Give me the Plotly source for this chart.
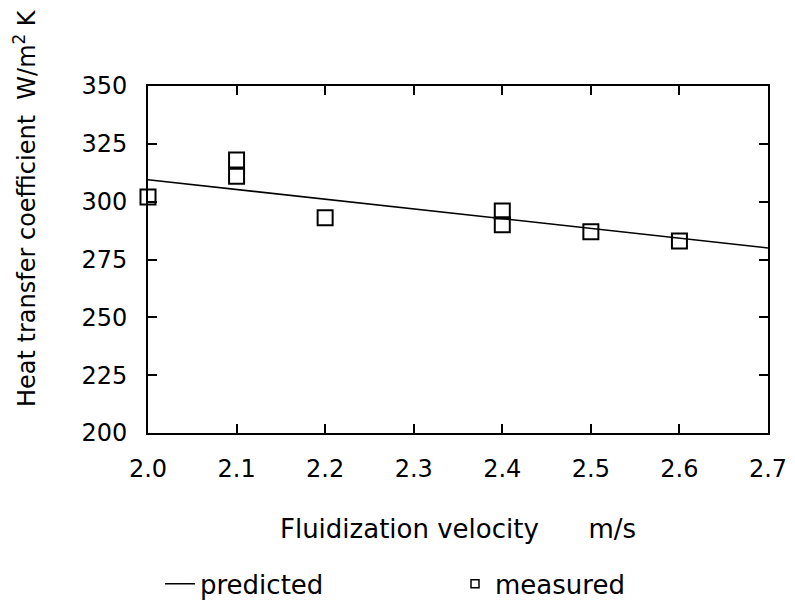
import plotly.graph_objects as go

# Measured heat transfer coefficients vs. fluidization velocity
velocity_measured = [2.0, 2.1, 2.1, 2.2, 2.4, 2.4, 2.5, 2.6]
htc_measured = [302, 318, 311, 293, 296, 290, 287, 283]

# Predicted correlation (straight line over the plotted range)
velocity_predicted = [2.0, 2.7]
htc_predicted = [309.5, 280]

x_ticks = [2.0, 2.1, 2.2, 2.3, 2.4, 2.5, 2.6, 2.7]
y_ticks = [200, 225, 250, 275, 300, 325, 350]

FONT = "DejaVu Sans"

fig = go.Figure()

fig.add_trace(go.Scatter(
    x=velocity_predicted, y=htc_predicted, mode="lines", name="predicted",
    line=dict(color="black", width=1.6), cliponaxis=False,
))
fig.add_trace(go.Scatter(
    x=velocity_measured, y=htc_measured, mode="markers", name="measured",
    marker=dict(symbol="square-open", size=15, color="black",
                line=dict(color="black", width=2)),
    showlegend=False, cliponaxis=False,
))
# legend entry for the measured points with a smaller symbol
fig.add_trace(go.Scatter(
    x=[None], y=[None], mode="markers", name="measured",
    marker=dict(symbol="square-open", size=8, color="black",
                line=dict(color="black", width=1.5)),
))

fig.update_layout(
    width=795, height=605,
    margin=dict(l=148, r=27, t=86, b=172, autoexpand=False),
    paper_bgcolor="white", plot_bgcolor="white",
    font=dict(family=FONT, size=24, color="black"),
    showlegend=True,
    legend=dict(orientation="h", x=160 / 795, xref="container", y=0.035,
                yref="container", yanchor="middle",
                entrywidth=250, entrywidthmode="pixels",
                font=dict(size=26, family=FONT)),
    annotations=[dict(
        text="Heat transfer coefficient  W/m<sup>2</sup> K",
        textangle=-90, xref="paper", yref="paper", xanchor="center",
        yanchor="middle", x=0, xshift=-123, y=(433 - 208) / 347,
        showarrow=False, font=dict(size=24, family=FONT),
    )],
)

fig.update_xaxes(
    range=[2.0, 2.7], tickvals=x_ticks, ticktext=[f"{v:.1f}" for v in x_ticks],
    ticks="inside", ticklen=9, tickwidth=1.5, tickcolor="black",
    showline=True, linecolor="black", linewidth=2, mirror="allticks",
    showgrid=False, zeroline=False, ticklabelstandoff=13,
    title=dict(text="Fluidization velocity      m/s", standoff=38,
               font=dict(size=26, family=FONT)),
)
fig.update_yaxes(
    range=[200, 350], tickvals=y_ticks,
    ticks="inside", ticklen=9, tickwidth=1.5, tickcolor="black",
    showline=True, linecolor="black", linewidth=2, mirror="allticks",
    showgrid=False, zeroline=False, ticklabelstandoff=14,
)

fig.write_html("out.html")
